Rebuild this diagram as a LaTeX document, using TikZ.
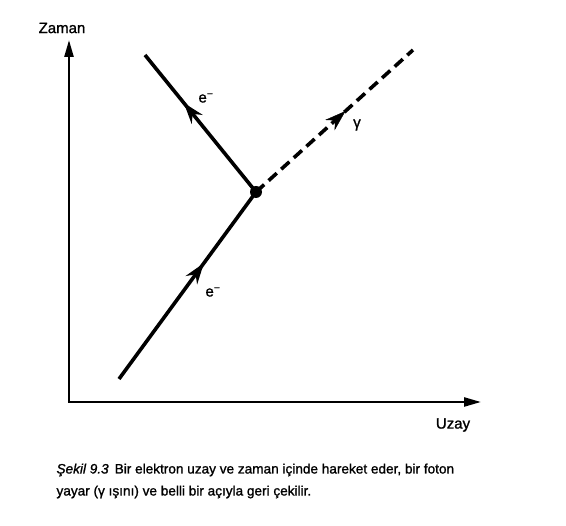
\documentclass[tikz,border=0pt]{standalone}
\usepackage{fontspec}
\setmainfont{Liberation Sans}[FakeBold=1.2]
\newfontfamily\heavy{Liberation Sans}[FakeBold=1.2]
\newfontfamily\heavyit{Liberation Sans Italic}[FakeBold=1.2]
\usetikzlibrary{arrows.meta,decorations.markings}
\tikzset{mytip/.tip={Stealth[length=21pt,width=14pt,inset=7pt]}}
\begin{document}
\begin{tikzpicture}[x=1pt,y=-1pt,
  axis/.style={line width=2.4pt,-{Triangle[length=17pt,width=9pt]}},
  world/.style={line width=3.6pt},
  midarrow/.style={postaction={decorate},decoration={markings,mark=at position #1 with {\arrow{mytip}}}},
  lbl/.style={font=\heavy\fontsize{15}{18}\selectfont},
  caplbl/.style={font=\heavy\fontsize{13.6}{22}\selectfont},
  photon/.style={line width=3.6pt,dash pattern=on 11pt off 6pt}]
\useasboundingbox (0,0) rectangle (566,526);
\coordinate (O) at (69,402);
\coordinate (ytip) at (69,40);
\coordinate (xtip) at (481,402);
\coordinate (start) at (119,379);
\coordinate (V) at (256,192);
\coordinate (eend) at (145,55);
\coordinate (gend) at (413,50);
\draw[axis] ([yshift=1.2pt]O) -- (ytip);
\draw[axis] ([xshift=-1.2pt]O) -- (xtip);
\node[lbl] (zaman) at (62,28) {Zaman};
\node[lbl] (uzay) at (453,425) {Uzay};
\draw[world,midarrow=0.62] (start) -- (V);
\draw[world,midarrow=0.65] (V) -- (eend);
\draw[photon] (V) -- (gend);
\path[postaction={decorate},decoration={markings,mark=at position 0.57 with {\arrow{mytip}}}] (V) -- (gend);
\fill (V) circle (6pt);
\node[lbl] (e1) at (206,98) {e\textsuperscript{−}};
\node[lbl] (e2) at (213,292) {e\textsuperscript{−}};
\node[lbl] (g) at (357,125) {γ};
\node[caplbl,anchor=west,align=left] (cap) at (53,481) {{\heavyit Şekil 9.3}\, Bir elektron uzay ve zaman içinde hareket eder, bir foton\\yayar (γ ışını) ve belli bir açıyla geri çekilir.};
\end{tikzpicture}
\end{document}
